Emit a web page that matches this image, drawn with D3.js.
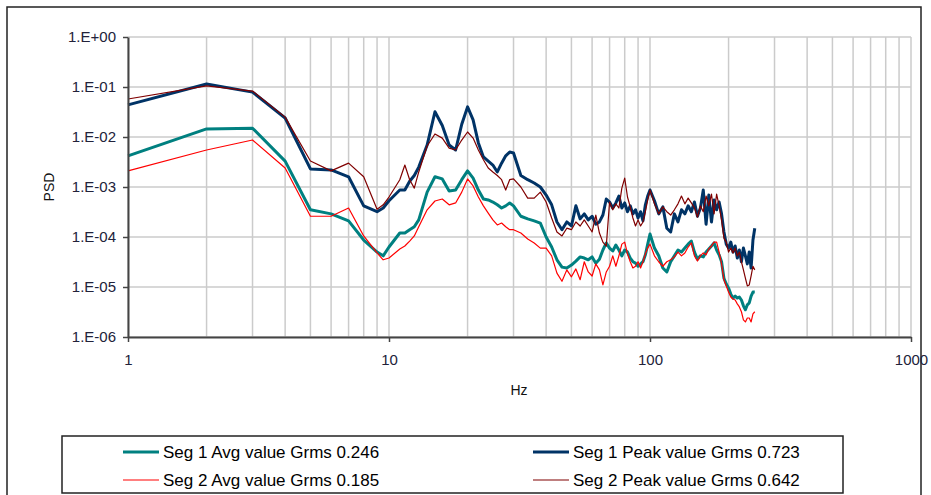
<!DOCTYPE html>
<html>
<head>
<meta charset="utf-8">
<script src="https://cdn.jsdelivr.net/npm/d3@7"></script>
<style>
  body { margin: 0; background: #fff; }
  text { font-family: "Liberation Sans", Arial, sans-serif; }
</style>
</head>
<body>
<div id="chart"></div>
<script>
// frequency points (Hz), shared by all four series
var freqs = [1, 2, 3, 4, 5, 6, 7, 8, 9, 9.5, 10, 11, 11.5, 12, 12.5,
  13, 14, 15, 16, 17, 18, 19, 20, 21, 22, 23, 24, 25, 26, 27, 28, 29, 30,
  32, 34, 36, 38, 40, 42, 44, 46, 48, 50, 52, 54, 56, 58, 60, 62, 64, 66, 68, 70,
  72, 74, 76, 78, 80, 82, 84, 86, 88, 90, 92, 94, 96, 98, 100,
  104, 108, 112, 116, 120, 124, 128, 132, 136, 140, 144, 148, 152, 156, 160, 164,
  168, 172, 176, 180, 184, 188, 192, 196, 200, 204, 208, 212, 216, 220, 224, 228,
  232, 236, 240, 244, 248, 252];

var seg1Avg = [4.2e-3, 1.45e-2, 1.5e-2, 3.3e-3, 3.5e-4, 2.9e-4, 2.1e-4, 8.7e-5, 5.0e-5,
  4.2e-5, 6.3e-5, 1.2e-4, 1.2e-4, 1.4e-4, 1.6e-4,
  2.2e-4, 7.9e-4, 1.6e-3, 1.45e-3, 8.3e-4, 8.7e-4, 1.4e-3, 2.1e-3, 1.5e-3, 8.7e-4,
  5.75e-4, 5.5e-4, 5.0e-4, 4.4e-4, 3.8e-4, 4.2e-4, 4.8e-4, 4.2e-4,
  2.6e-4, 2.3e-4, 2.1e-4, 1.9e-4, 1.0e-4, 6.3e-5, 3.5e-5, 2.5e-5, 2.4e-5, 2.75e-5,
  3.3e-5, 4.0e-5, 3.8e-5, 3.5e-5, 4.0e-5, 3.0e-5, 3.6e-5, 5.5e-5, 7.6e-5, 6.0e-5,
  5.25e-5, 6.9e-5, 5.5e-5, 4.2e-5, 5.5e-5, 5.0e-5, 3.8e-5, 3.2e-5, 3.0e-5, 2.6e-5,
  2.9e-5, 3.2e-5, 4.4e-5, 7.2e-5, 1.15e-4,
  6.0e-5, 4.2e-5, 2.4e-5, 2.0e-5, 3.2e-5, 4.2e-5, 5.5e-5, 5.0e-5, 6.0e-5, 7.2e-5,
  8.3e-5, 5.0e-5, 3.6e-5, 4.2e-5, 4.0e-5, 5.0e-5, 5.75e-5, 6.6e-5, 7.6e-5, 5.5e-5,
  4.4e-5, 3.2e-5, 1.5e-5, 1.15e-5, 9.5e-6, 7.2e-6, 6.0e-6, 6.6e-6, 6.0e-6, 6.3e-6,
  5.5e-6, 4.2e-6, 3.5e-6, 4.4e-6, 4.8e-6, 6.6e-6, 7.9e-6, 7.9e-6];

var seg1Peak = [4.4e-2, 1.15e-1, 7.9e-2, 2.4e-2, 2.3e-3, 2.2e-3, 1.6e-3, 4.2e-4, 3.2e-4,
  3.8e-4, 5.3e-4, 8.7e-4, 8.7e-4, 1.3e-3, 1.7e-3,
  2.5e-3, 6.9e-3, 3.2e-2, 1.7e-2, 6.9e-3, 5.5e-3, 1.8e-2, 4.0e-2, 2.2e-2, 7.6e-3,
  4.0e-3, 3.3e-3, 2.75e-3, 2.0e-3, 3.0e-3, 4.2e-3, 5.0e-3, 4.8e-3,
  1.7e-3, 1.4e-3, 1.2e-3, 1.0e-3, 6.9e-4, 4.4e-4, 2.0e-4, 1.4e-4, 2.0e-4, 1.66e-4,
  4.2e-4, 2.3e-4, 2.9e-4, 2.2e-4, 2.6e-4, 1.8e-4, 2.0e-4, 2.75e-4, 5.75e-4, 5.0e-4,
  3.8e-4, 4.8e-4, 6.6e-4, 3.8e-4, 4.8e-4, 3.2e-4, 4.2e-4, 2.9e-4, 3.5e-4, 2.4e-4,
  3.2e-4, 2.1e-4, 4.4e-4, 6.6e-4, 8.7e-4,
  5.3e-4, 2.9e-4, 4.0e-4, 1.5e-4, 1.26e-4, 2.9e-4, 2.0e-4, 3.5e-4, 2.9e-4, 4.2e-4,
  3.2e-4, 5.0e-4, 2.6e-4, 3.8e-4, 8.7e-4, 1.8e-4, 6.9e-4, 2.0e-4, 5.5e-4, 3.5e-4,
  5.0e-4, 2.9e-4, 1.26e-4, 7.2e-5, 6.0e-5, 7.9e-5, 5.0e-5, 6.6e-5, 3.8e-5, 5.5e-5,
  3.2e-5, 6.0e-5, 4.2e-5, 2.9e-5, 5.0e-5, 2.4e-5, 8.7e-5, 1.5e-4];

var seg2Avg = [2.1e-3, 5.5e-3, 8.7e-3, 2.4e-3, 2.6e-4, 2.6e-4, 3.8e-4, 1.05e-4, 4.8e-5,
  3.5e-5, 3.8e-5, 5.75e-5, 6.6e-5, 8.3e-5, 1.05e-4,
  1.6e-4, 3.5e-4, 5.25e-4, 5.75e-4, 4.4e-4, 4.8e-4, 7.9e-4, 1.45e-3, 1.05e-3, 6.3e-4,
  4.2e-4, 3.0e-4, 2.2e-4, 1.74e-4, 1.9e-4, 1.6e-4, 1.4e-4, 1.4e-4,
  1.2e-4, 9.1e-5, 7.6e-5, 6.0e-5, 6.0e-5, 4.2e-5, 1.9e-5, 1.3e-5, 2.2e-5, 1.6e-5,
  2.3e-5, 1.4e-5, 3.2e-5, 2.0e-5, 1.66e-5, 2.9e-5, 2.2e-5, 1.1e-5, 2.0e-5, 2.6e-5,
  4.2e-5, 2.6e-5, 4.2e-5, 7.2e-5, 7.9e-5, 4.6e-5, 3.2e-5, 2.4e-5, 2.6e-5, 3.2e-5,
  2.4e-5, 3.2e-5, 4.6e-5, 6.0e-5, 7.2e-5,
  4.2e-5, 3.2e-5, 2.6e-5, 3.2e-5, 3.5e-5, 4.0e-5, 5.0e-5, 4.2e-5, 4.8e-5, 6.3e-5,
  7.6e-5, 4.2e-5, 3.3e-5, 4.2e-5, 4.8e-5, 4.4e-5, 5.75e-5, 6.6e-5, 7.9e-5, 7.9e-5,
  5.0e-5, 2.9e-5, 1.4e-5, 1.05e-5, 7.9e-6, 6.3e-6, 5.75e-6, 5.5e-6, 4.6e-6, 4.0e-6,
  3.2e-6, 2.2e-6, 2.0e-6, 2.4e-6, 2.4e-6, 2.0e-6, 2.9e-6, 3.2e-6];

var seg2Peak = [5.75e-2, 1.05e-1, 8.3e-2, 2.5e-2, 3.3e-3, 2.1e-3, 3.0e-3, 1.6e-3, 3.6e-4,
  4.4e-4, 6.3e-4, 1.4e-3, 2.75e-3, 1.4e-3, 9.5e-4,
  2.0e-3, 6.6e-3, 1.15e-2, 9.5e-3, 6.0e-3, 5.5e-3, 8.7e-3, 1.26e-2, 9.5e-3, 5.5e-3,
  3.5e-3, 2.4e-3, 2.0e-3, 1.7e-3, 1.4e-3, 8.7e-4, 1.4e-3, 1.45e-3,
  1.0e-3, 6.0e-4, 6.0e-4, 7.9e-4, 5.0e-4, 2.4e-4, 1.26e-4, 1.05e-4, 1.5e-4, 1.4e-4,
  2.0e-4, 1.66e-4, 2.2e-4, 1.66e-4, 1.26e-4, 2.75e-4, 1.2e-4, 7.9e-5, 6.6e-5, 5.0e-4,
  3.5e-4, 4.6e-4, 3.8e-4, 9.5e-4, 1.5e-3, 6.3e-4, 4.0e-4, 2.4e-4, 1.66e-4, 2.2e-4,
  1.66e-4, 2.0e-4, 3.2e-4, 5.5e-4, 8.7e-4,
  4.6e-4, 2.9e-4, 4.0e-4, 3.2e-4, 2.75e-4, 3.5e-4, 4.6e-4, 6.6e-4, 4.6e-4, 6.0e-4,
  4.8e-4, 3.8e-4, 2.5e-4, 4.2e-4, 3.2e-4, 6.6e-4, 4.2e-4, 7.2e-4, 2.9e-4, 7.2e-4,
  4.2e-4, 2.2e-4, 9.5e-5, 7.9e-5, 5.0e-5, 6.0e-5, 4.8e-5, 6.0e-5, 4.2e-5, 5.0e-5,
  3.2e-5, 2.2e-5, 1.5e-5, 1.05e-5, 1.1e-5, 1.66e-5, 2.6e-5, 2.2e-5];

var seriesNames = ["Seg 1 Avg value Grms 0.246", "Seg 2 Avg value Grms 0.185",
                   "Seg 1 Peak value Grms 0.723", "Seg 2 Peak value Grms 0.642"];

var yTickValues = [1e-6, 1e-5, 1e-4, 1e-3, 1e-2, 1e-1, 1];
var yTickLabels = ["1.E-06", "1.E-05", "1.E-04", "1.E-03", "1.E-02", "1.E-01", "1.E+00"];
var xTickValues = [1, 10, 100, 1000];
var xTickLabels = ["1", "10", "100", "1000"];

// svg container
var svgWidth = 931;
var svgHeight = 495;

var margin = { top: 37, right: 20, bottom: 158, left: 128 };
var chartWidth = 911 - margin.left;
var chartHeight = 337 - margin.top;

var svg = d3.select("#chart")
            .append("svg")
            .attr("width", svgWidth)
            .attr("height", svgHeight);

// outer frame
svg.append("rect")
   .attr("x", 7).attr("y", 7)
   .attr("width", 914).attr("height", 520)
   .attr("fill", "none")
   .attr("stroke", "#222")
   .attr("stroke-width", 1.5);

var chartGroup = svg.append("g").attr("transform", `translate(${margin.left}, ${margin.top})`);

var xScale = d3.scaleLog().domain([1, 1000]).range([0, chartWidth]);
var yScale = d3.scaleLog().domain([1e-6, 1]).range([chartHeight, 0]);

// grid lines
chartGroup.append("g")
  .selectAll("line")
  .data(xScale.ticks())
  .enter().append("line")
  .attr("x1", d => xScale(d)).attr("x2", d => xScale(d))
  .attr("y1", 0).attr("y2", chartHeight)
  .attr("stroke", "#cbcbcb").attr("stroke-width", 1.5);

chartGroup.append("g")
  .selectAll("line")
  .data(yTickValues)
  .enter().append("line")
  .attr("x1", 0).attr("x2", chartWidth)
  .attr("y1", d => yScale(d)).attr("y2", d => yScale(d))
  .attr("stroke", "#cbcbcb").attr("stroke-width", 1.5);

// series
var line = d3.line()
  .x((d, i) => xScale(freqs[i]))
  .y(d => yScale(d));

var series = [
  { values: seg1Avg, color: "#008080", width: 3 },
  { values: seg1Peak, color: "#003366", width: 3 },
  { values: seg2Avg, color: "#ff0000", width: 1.2 },
  { values: seg2Peak, color: "#800000", width: 1.2 }
];

series.forEach(function(s) {
  chartGroup.append("path")
    .datum(s.values)
    .attr("d", line)
    .attr("fill", "none")
    .attr("stroke", s.color)
    .attr("stroke-width", s.width)
    .attr("stroke-linejoin", "round");
});

// axes
var yAxis = d3.axisLeft(yScale)
  .tickValues(yTickValues)
  .tickFormat((d, i) => yTickLabels[i])
  .tickSize(5).tickSizeOuter(0).tickPadding(7);

var xAxis = d3.axisBottom(xScale)
  .tickValues(xTickValues)
  .tickFormat((d, i) => xTickLabels[i])
  .tickSize(5).tickSizeOuter(0).tickPadding(12);

var yAxisG = chartGroup.append("g").call(yAxis);
var xAxisG = chartGroup.append("g")
  .attr("transform", `translate(0, ${chartHeight})`)
  .call(xAxis);

[xAxisG, yAxisG].forEach(function(g) {
  g.select(".domain").attr("stroke", "#444").attr("stroke-width", 2);
  g.selectAll(".tick line").attr("stroke", "#444").attr("stroke-width", 1.5);
  g.selectAll(".tick text")
    .attr("fill", "#22223a")
    .style("font-size", "15px")
    .style("font-family", "'Liberation Sans', Arial, sans-serif");
});

// axis titles
svg.append("text")
   .attr("transform", "translate(54, 187) rotate(-90)")
   .attr("text-anchor", "middle")
   .style("font-size", "14px")
   .attr("fill", "#111")
   .text("PSD");

svg.append("text")
   .attr("x", 519).attr("y", 395)
   .attr("text-anchor", "middle")
   .style("font-size", "14px")
   .attr("fill", "#111")
   .text("Hz");

// legend
svg.append("rect")
   .attr("x", 62).attr("y", 436)
   .attr("width", 781).attr("height", 57)
   .attr("fill", "#fff")
   .attr("stroke", "#222")
   .attr("stroke-width", 1.5);

var legendItems = [
  { name: seriesNames[0], s: series[0], x: 123, y: 452 },
  { name: seriesNames[1], s: series[2], x: 123, y: 480 },
  { name: seriesNames[2], s: series[1], x: 533, y: 452 },
  { name: seriesNames[3], s: series[3], x: 533, y: 480 }
];

legendItems.forEach(function(item) {
  svg.append("line")
     .attr("x1", item.x).attr("x2", item.x + 36)
     .attr("y1", item.y).attr("y2", item.y)
     .attr("stroke", item.s.color)
     .attr("stroke-width", item.s.width);
  svg.append("text")
     .attr("x", item.x + 40).attr("y", item.y)
     .attr("dy", "0.35em")
     .style("font-size", "17px")
     .attr("fill", "#000")
     .text(item.name);
});
</script>
</body>
</html>
